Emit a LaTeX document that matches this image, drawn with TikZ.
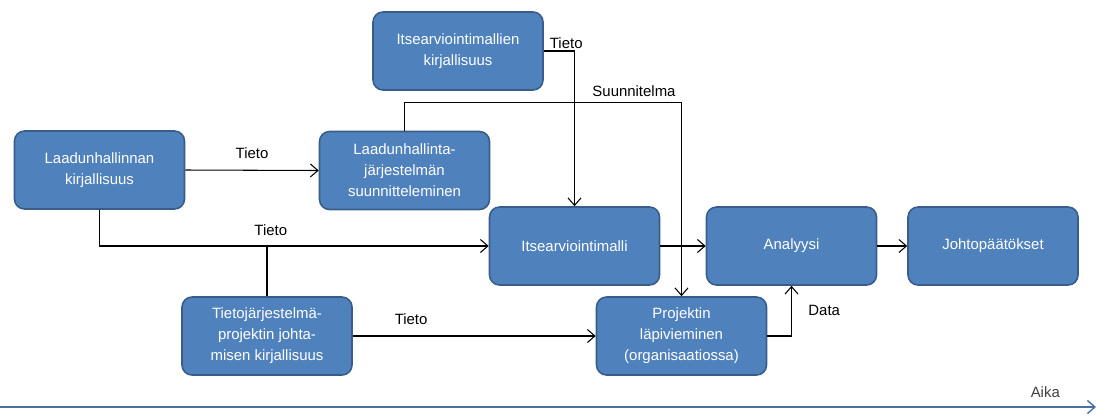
\documentclass[tikz,border=0pt]{standalone}
\usepackage{fontspec}
\setmainfont{Liberation Sans}
\usetikzlibrary{calc,positioning,arrows.meta}
\definecolor{boxblue}{RGB}{79,129,189}
\definecolor{boxedge}{RGB}{56,93,138}
\definecolor{axisblue}{RGB}{74,111,165}

\begin{document}
\begin{tikzpicture}[
  stage/.style={rectangle, rounded corners=0.2cm, fill=boxblue, draw=boxedge, line width=0.9pt,
    minimum width=3.4cm, minimum height=1.56cm, text=white, align=center,
    font=\fontsize{8.5}{12}\selectfont},
  flow/.style={-{Straight Barb[length=1.5mm,width=2.6mm]}, line width=0.6pt},
  lbl/.style={font=\fontsize{8.5}{10}\selectfont, text=black}]
\useasboundingbox (0,0) rectangle (21.92,8.3);
\node[stage] (itsekirj) at (9.16,7.28) {Itsearviointimallien\\kirjallisuus};
\node[stage] (laatukirj) at (1.99,4.9) {Laadunhallinnan\\kirjallisuus};
\node[stage] (suunn) at (8.09,4.89) {Laadunhallinta-\\järjestelmän\\suunnitteleminen};
\node[stage] (malli) at (11.49,3.38) {Itsearviointimalli};
\node[stage] (analyysi) at (15.83,3.38) {Analyysi};
\node[stage] (johto) at (19.86,3.38) {Johtopäätökset};
\node[stage] (tjkirj) at (5.34,1.58) {Tietojärjestelmä-\\projektin johta-\\misen kirjallisuus};
\node[stage] (lapivienti) at (13.63,1.58) {Projektin\\läpivieminen\\(organisaatiossa)};
\draw[flow] (laatukirj.east) -- node[lbl, above=3pt] {Tieto} (suunn.west);
\draw[flow] (itsekirj.east) -| (malli.north);
\node[lbl, anchor=south west, inner sep=1pt] at ($(itsekirj.east)+(0.08,0)$) {Tieto};
\draw[flow] (suunn.north) -- ++(0,0.56) coordinate (suunnkulma) -| (lapivienti.north);
\node[lbl, above] at ($(suunnkulma -| lapivienti.north)+(-0.95,0)$) {Suunnitelma};
\draw[flow] (laatukirj.south) |- node[lbl, pos=0.72, above=2pt] {Tieto} (malli.west);
\draw[line width=0.6pt] (tjkirj.north) -- (tjkirj.north |- malli.west);
\draw[flow] (tjkirj.east) -- node[lbl, pos=0.24, above=3pt] {Tieto} (lapivienti.west);
\draw[flow] (malli.east) -- (analyysi.west);
\draw[flow] (analyysi.east) -- (johto.west);
\draw[flow] (lapivienti.east) -| node[lbl, pos=0.75, right=6pt] {Data} (analyysi.south);
% aikajana
\coordinate (aikaalku) at (0,0.16);
\coordinate (aikaloppu) at (21.92,0.16);
\draw[-{Straight Barb[length=1.5mm,width=2.6mm]}, axisblue, line width=0.8pt] (aikaalku) -- (aikaloppu);
\node[lbl, text=black!75, above left=2pt and 0.6cm] at (aikaloppu) {Aika};
\end{tikzpicture}
\end{document}
